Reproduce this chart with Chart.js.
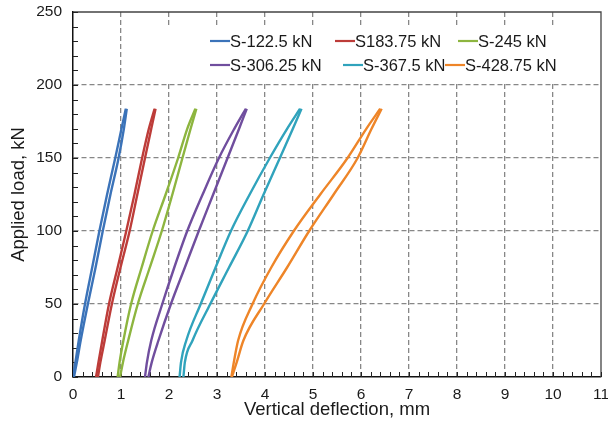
<!DOCTYPE html>
<html>
<head>
<meta charset="utf-8">
<script src="https://cdn.jsdelivr.net/npm/chart.js@4/dist/chart.umd.min.js"></script>
<style>
body { margin: 0; background: #fff; }
</style>
</head>
<body>
<canvas id="chart" width="608" height="429"></canvas>
<script>
const seriesNames = ['S-122.5 kN', 'S183.75 kN', 'S-245 kN', 'S-306.25 kN', 'S-367.5 kN', 'S-428.75 kN']
// applied load, kN (same levels for every loop)
const loads = [0, 10, 25, 50, 75, 100, 125, 150, 170, 183.75]
// deflection, mm, going up (outer branch)
const loadingDefl = [
	[0.02, 0.08, 0.16, 0.31, 0.47, 0.62, 0.78, 0.95, 1.06, 1.12],
	[0.52, 0.57, 0.66, 0.81, 0.99, 1.18, 1.34, 1.50, 1.63, 1.72],
	[0.98, 1.04, 1.15, 1.35, 1.60, 1.85, 2.07, 2.28, 2.45, 2.57],
	[1.57, 1.64, 1.78, 2.04, 2.33, 2.62, 2.92, 3.22, 3.46, 3.62],
	[2.30, 2.33, 2.49, 2.86, 3.25, 3.64, 3.97, 4.31, 4.58, 4.76],
	[3.31, 3.41, 3.55, 3.98, 4.46, 4.92, 5.43, 5.93, 6.22, 6.43],
]
// deflection, mm, coming down (inner branch), listed from 0 kN up
const unloadingDefl = [
	[0.00, 0.05, 0.12, 0.25, 0.40, 0.55, 0.71, 0.88, 1.01, 1.10],
	[0.48, 0.53, 0.61, 0.75, 0.93, 1.11, 1.28, 1.44, 1.58, 1.70],
	[0.93, 0.97, 1.05, 1.21, 1.43, 1.66, 1.93, 2.19, 2.38, 2.55],
	[1.50, 1.54, 1.63, 1.86, 2.11, 2.38, 2.70, 3.04, 3.36, 3.60],
	[2.22, 2.25, 2.36, 2.66, 2.97, 3.29, 3.68, 4.10, 4.46, 4.73],
	[3.30, 3.35, 3.44, 3.74, 4.13, 4.60, 5.15, 5.72, 6.11, 6.40],
]

const colors = ['#3b73b9', '#bd3c39', '#8db53f', '#704e9e', '#30a3bc', '#ee8528']
const FONT = "'Liberation Sans', Arial, sans-serif"

function branch(defl) {
	return defl.map((x, i) => ({ x: x, y: loads[i] }))
}

// each loop is drawn as two branches so the spline stays monotone
const datasets = []
seriesNames.forEach((name, i) => {
	[loadingDefl[i], unloadingDefl[i]].forEach((defl) => {
		datasets.push({
			label: name,
			data: branch(defl),
			showLine: true,
			borderColor: colors[i],
			backgroundColor: colors[i],
			borderWidth: 2.4,
			pointRadius: 0,
			cubicInterpolationMode: 'monotone',
		})
	})
})

// where each legend entry starts (Excel did not line them up in columns)
const legendSlots = [[210, 41], [335, 41], [458, 41], [210, 65], [343, 65], [445, 65]]

const decorPlugin = {
	id: 'decor',
	beforeDatasetsDraw(chart) {
		const { ctx, chartArea: a, scales } = chart
		ctx.save()
		// top & right frame
		ctx.strokeStyle = '#444'
		ctx.lineWidth = 1.3
		ctx.beginPath()
		ctx.moveTo(a.left, a.top)
		ctx.lineTo(a.right, a.top)
		ctx.lineTo(a.right, a.bottom)
		ctx.stroke()
		// minor ticks pointing inwards
		ctx.strokeStyle = '#222'
		ctx.lineWidth = 1
		ctx.beginPath()
		for (let k = 0; k <= 55; k++) {
			const px = Math.round(scales.x.getPixelForValue(k * 0.2)) + 0.5
			ctx.moveTo(px, a.bottom)
			ctx.lineTo(px, a.bottom - 5)
		}
		for (let v = 0; v <= 250; v += 10) {
			const py = Math.round(scales.y.getPixelForValue(v)) + 0.5
			ctx.moveTo(a.left, py)
			ctx.lineTo(a.left + 5, py)
		}
		ctx.stroke()
		// legend, one entry per loop
		ctx.fillStyle = '#fff'
		ctx.fillRect(150, 26, a.right - 153, 56)
		ctx.font = '16.5px ' + FONT
		ctx.textBaseline = 'middle'
		seriesNames.forEach((name, i) => {
			const [x, y] = legendSlots[i]
			ctx.strokeStyle = colors[i]
			ctx.lineWidth = 2.2
			ctx.beginPath()
			ctx.moveTo(x, y)
			ctx.lineTo(x + 20, y)
			ctx.stroke()
			ctx.fillStyle = '#1a1a1a'
			ctx.fillText(name, x + 20, y + 1)
		})
		ctx.restore()
	},
}

new Chart(document.getElementById('chart'), {
	type: 'scatter',
	data: { datasets: datasets },
	plugins: [decorPlugin],
	options: {
		responsive: false,
		animation: false,
		layout: { padding: 0 },
		plugins: {
			legend: { display: false },
			tooltip: { enabled: false },
		},
		scales: {
			x: {
				type: 'linear',
				min: 0,
				max: 11,
				afterFit: (s) => {
					s.height = 52
					s.paddingLeft = 0
					s.paddingRight = 7
				},
				ticks: {
					stepSize: 1,
					padding: 8,
					color: '#1a1a1a',
					font: { family: FONT, size: 15.5 },
				},
				grid: {
					drawTicks: false,
					lineWidth: 1.3,
					color: (c) => (c.tick && (c.tick.value === 0 || c.tick.value === 11)) ? 'rgba(0,0,0,0)' : '#878787',
				},
				border: { display: true, color: '#111', width: 1.5, dash: [5, 3] },
				title: {
					display: true,
					text: 'Vertical deflection, mm',
					color: '#1a1a1a',
					padding: 8,
					font: { family: FONT, size: 18.5 },
				},
			},
			y: {
				min: 0,
				max: 250,
				afterFit: (s) => {
					s.width = 73
					s.paddingTop = 12
					s.paddingBottom = 0
				},
				ticks: {
					stepSize: 50,
					padding: 11,
					color: '#1a1a1a',
					font: { family: FONT, size: 15.5 },
				},
				grid: {
					drawTicks: false,
					lineWidth: 1.3,
					color: (c) => (c.tick && (c.tick.value === 0 || c.tick.value === 250)) ? 'rgba(0,0,0,0)' : '#878787',
				},
				border: { display: true, color: '#111', width: 1.5, dash: [5, 3] },
				title: {
					display: true,
					text: 'Applied load, kN',
					color: '#1a1a1a',
					padding: 8,
					font: { family: FONT, size: 18.5 },
				},
			},
		},
	},
})
</script>
</body>
</html>
